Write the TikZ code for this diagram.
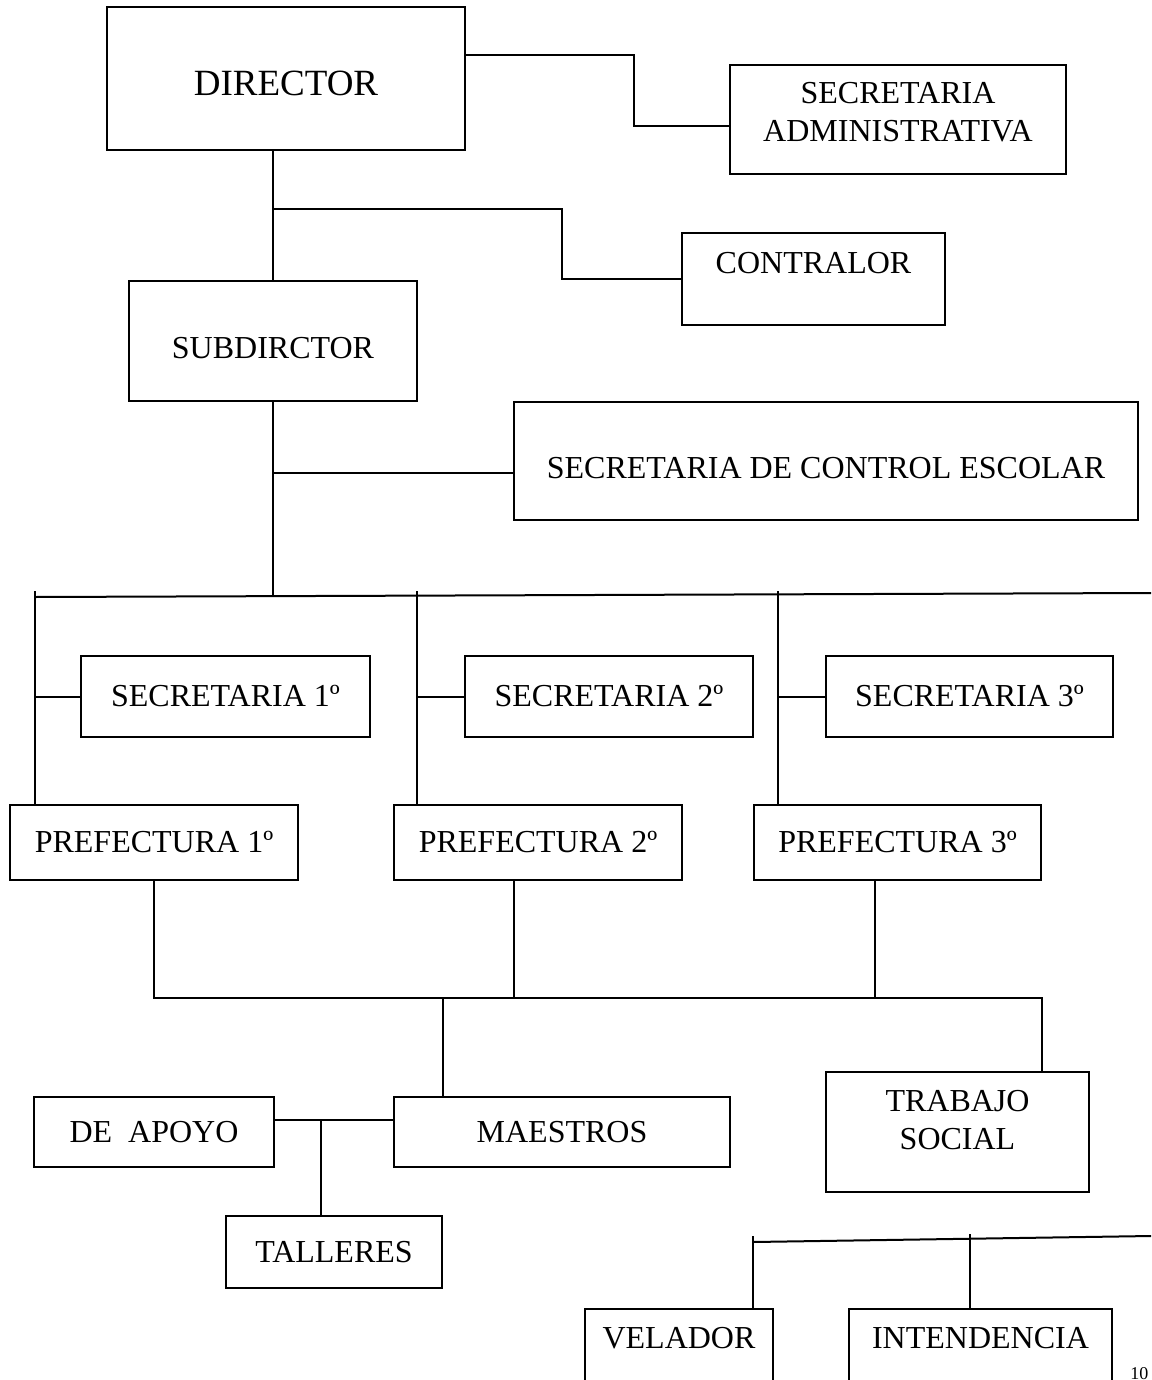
\documentclass[tikz,border=0pt]{standalone}
\usepackage{fontspec}
\setmainfont{Liberation Serif}

\tikzset{
  box/.style={draw,line width=1pt,inner sep=2pt,align=center,
    font=\fontsize{16}{19}\selectfont},
  wire/.style={line width=1pt}
}

\begin{document}
\begin{tikzpicture}[x=0.5pt,y=-0.5pt]
  \useasboundingbox (0,0) rectangle (1151,1380);
  \clip (0,0) rectangle (1151,1380);
  \node[box,minimum width=179pt,minimum height=71.5pt,font=\fontsize{18.5}{22}\selectfont,text height=16.7pt] (dir) at (286,78.5) {DIRECTOR};
  \node[box,minimum width=168pt,minimum height=54.5pt,text depth=7.5pt] (secadm) at (898,119.5) {SECRETARIA\\ADMINISTRATIVA};
  \node[box,minimum width=131.5pt,minimum height=46pt,text depth=16pt] (contr) at (813.5,279) {CONTRALOR};
  \node[box,minimum width=144pt,minimum height=60pt,text height=17.6pt] (subdir) at (273,341) {SUBDIRCTOR};
  \node[box,minimum width=312pt,minimum height=59pt,text height=17.6pt] (secce) at (826,461) {SECRETARIA DE CONTROL ESCOLAR};
  \node[box,minimum width=144.5pt,minimum height=40.5pt] (sec1) at (225.5,696.5) {SECRETARIA 1º};
  \node[box,minimum width=144pt,minimum height=40.5pt] (sec2) at (609,696.5) {SECRETARIA 2º};
  \node[box,minimum width=143.5pt,minimum height=40.5pt] (sec3) at (969.5,696.5) {SECRETARIA 3º};
  \node[box,minimum width=144pt,minimum height=37.5pt] (pref1) at (154,842.5) {PREFECTURA 1º};
  \node[box,minimum width=144pt,minimum height=37.5pt] (pref2) at (538,842.5) {PREFECTURA 2º};
  \node[box,minimum width=143.5pt,minimum height=37.5pt] (pref3) at (897.5,842.5) {PREFECTURA 3º};
  \node[box,minimum width=120pt,minimum height=35pt] (apoyo) at (154,1132) {DE\ \ APOYO};
  \node[box,minimum width=168pt,minimum height=35pt] (maes) at (562,1132) {MAESTROS};
  \node[box,minimum width=131.5pt,minimum height=60pt,text depth=12pt] (tsoc) at (957.5,1132) {TRABAJO\\SOCIAL};
  \node[box,minimum width=108pt,minimum height=36pt] (tall) at (334,1252) {TALLERES};
  \node[box,minimum width=94pt,minimum height=43pt,text depth=14pt] (vel) at (679,1352) {VELADOR};
  \node[box,minimum width=131.5pt,minimum height=43pt,text depth=14pt] (int) at (980.5,1352) {INTENDENCIA};
  \node[anchor=base west,inner sep=0pt,font=\fontsize{9}{10}\selectfont] (pg) at (1130,1379) {10};

  \coordinate (k1) at (634,55);
  \coordinate (k2) at (634,126);
  \coordinate (k3) at (274,209);
  \coordinate (k4) at (562,209);
  \coordinate (k5) at (274,473);
  \coordinate (b0) at (274,596);
  \coordinate (bl) at (35,597);
  \coordinate (br) at (1151,593);
  \draw[wire] (dir.east |- k1) -- (k1) -- (k2) -- (secadm.west |- k2);
  \draw[wire] (subdir.north |- dir.south) -- (subdir.north);
  \draw[wire] (k3) -- (k4) |- (contr.west);
  \draw[wire] (subdir.south) -- (subdir.south |- b0);
  \draw[wire] (k5) -- (secce.west |- k5);
  \draw[wire] (bl) -- (br);
  \foreach \i/\x in {1/35,2/417,3/778} {
    \coordinate (v\i) at (\x,591);
    \draw[wire] (v\i) -- (v\i |- pref\i.north);
    \draw[wire] (v\i |- sec\i.west) -- (sec\i.west);
  }

  \coordinate (u1) at (154,998);
  \coordinate (u2) at (514,998);
  \coordinate (u3) at (875,998);
  \coordinate (u4) at (1042,998);
  \coordinate (u5) at (443,998);
  \draw[wire] (u1 |- pref1.south) -- (u1) -- (u4) -- (u4 |- tsoc.north);
  \draw[wire] (u2 |- pref2.south) -- (u2);
  \draw[wire] (u3 |- pref3.south) -- (u3);
  \draw[wire] (u5) -- (u5 |- maes.north);

  \coordinate (t) at (321,1120);
  \draw[wire] (apoyo.east |- t) -- (maes.west |- t);
  \draw[wire] (t) -- (t |- tall.north);

  \coordinate (w0) at (753,1242);
  \coordinate (wr) at (1151,1236);
  \coordinate (w1) at (753,1236);
  \coordinate (w2) at (970,1234);
  \draw[wire] (w0) -- (wr);
  \draw[wire] (w1) -- (w1 |- vel.north);
  \draw[wire] (w2) -- (w2 |- int.north);
\end{tikzpicture}
\end{document}
